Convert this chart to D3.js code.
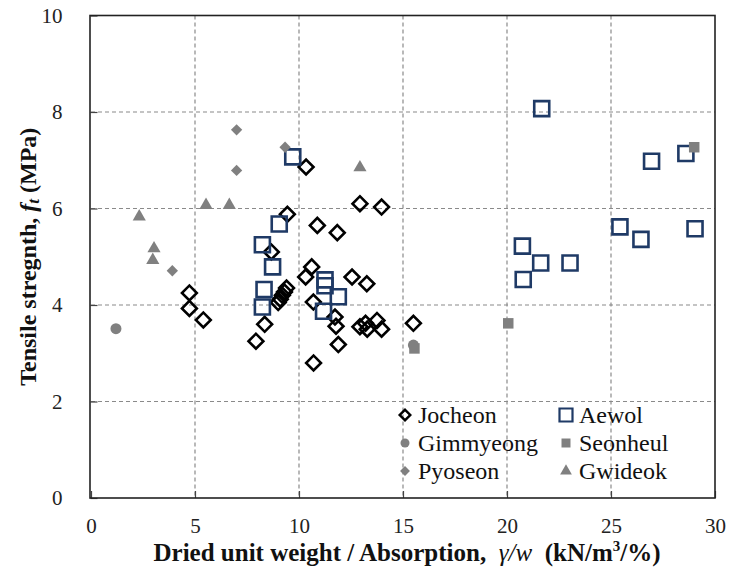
<!DOCTYPE html>
<html>
<head>
<meta charset="utf-8">
<script src="https://cdn.jsdelivr.net/npm/d3@7"></script>
<style>
  html, body { margin: 0; padding: 0; background: #fff; }
  svg { display: block; }
</style>
</head>
<body>
<svg id="chart" width="730" height="568"></svg>
<script>
// Tensile strength vs. dried unit weight / absorption, by quarry site
const xTicks = [0, 5, 10, 15, 20, 25, 30];
const yTicks = [0, 2, 4, 6, 8, 10];

const jocheon = [
  [4.73, 4.25], [4.73, 3.93], [5.4, 3.69], [7.93, 3.25], [8.35, 3.6],
  [8.67, 5.1], [9.0, 4.05], [9.1, 4.12], [9.2, 4.2], [9.3, 4.27], [9.4, 4.35],
  [9.44, 5.88], [10.34, 6.86], [10.88, 5.65], [11.84, 5.5], [12.93, 6.1],
  [13.97, 6.03], [10.61, 4.79], [10.32, 4.58], [12.55, 4.58], [13.26, 4.44],
  [10.69, 4.06], [11.73, 3.75], [11.78, 3.56], [11.89, 3.18], [10.7, 2.8],
  [12.93, 3.55], [13.2, 3.62], [13.28, 3.5], [13.75, 3.68], [13.97, 3.5],
  [15.5, 3.62]
];
const aewol = [
  [8.24, 5.25], [9.05, 5.68], [8.73, 4.79], [8.32, 4.32], [8.24, 3.96],
  [9.7, 7.07], [11.25, 4.52], [11.25, 4.4], [11.89, 4.17], [11.18, 3.87],
  [21.67, 8.07], [26.95, 6.98], [28.6, 7.14], [25.43, 5.62], [26.44, 5.36],
  [29.04, 5.58], [20.74, 5.22], [21.62, 4.87], [23.03, 4.87], [20.78, 4.53]
];
const gimmyeong = [[1.2, 3.51], [15.5, 3.17]];
const seonheul = [[15.55, 3.1], [20.06, 3.62], [29.0, 7.27]];
const pyoseon = [[7.0, 7.63], [9.33, 7.27], [7.0, 6.79], [3.91, 4.71]];
const gwideok = [[5.53, 6.07], [6.65, 6.07], [2.32, 5.83], [3.03, 5.17], [2.97, 4.93], [12.93, 6.85]];

const seriesNames = ["Jocheon", "Aewol", "Gimmyeong", "Seonheul", "Pyoseon", "Gwideok"];

const SERIF = '"Liberation Serif"';
const GRAY = "#808080";
const NAVY = "#1f3a66";

const svg = d3.select("#chart");
const plotLeft = 91, plotRight = 715, plotTop = 15.5, plotBottom = 498;

const x = d3.scaleLinear().domain([0, 30]).range([plotLeft, plotRight]);
const y = d3.scaleLinear().domain([0, 10]).range([plotBottom, plotTop]);

// gridlines
const grid = svg.append("g");
grid.selectAll("line.h").data(yTicks.filter(d => d > 0 && d < 10)).join("line")
  .attr("x1", plotLeft).attr("x2", plotRight)
  .attr("y1", d => y(d)).attr("y2", d => y(d))
  .attr("stroke", "#8a8a8a").attr("stroke-width", 1.2).attr("stroke-dasharray", "4,3");
grid.selectAll("line.v").data(xTicks.filter(d => d > 0 && d < 30)).join("line")
  .attr("y1", plotTop).attr("y2", plotBottom)
  .attr("x1", d => x(d)).attr("x2", d => x(d))
  .attr("stroke", "#8a8a8a").attr("stroke-width", 1.2).attr("stroke-dasharray", "4,3");

// axes with inward ticks
const xAxis = d3.axisBottom(x).tickValues(xTicks).tickSize(-7).tickPadding(20).tickFormat(d3.format("d"));
const yAxis = d3.axisLeft(y).tickValues(yTicks).tickSize(-7).tickPadding(28).tickFormat(d3.format("d"));

const gx = svg.append("g").attr("transform", `translate(0,${plotBottom})`).call(xAxis);
const gy = svg.append("g").attr("transform", `translate(${plotLeft - 0.5},0)`).call(yAxis);
[gx, gy].forEach(g => {
  g.attr("font-family", "Liberation Serif").attr("font-size", 21);
  g.select(".domain").remove();
  g.selectAll(".tick line").attr("stroke", "#444").attr("stroke-width", 1.2);
  g.selectAll(".tick text").attr("fill", "#222").style("font-family", SERIF);
});
gy.selectAll(".tick text").attr("text-anchor", "end").attr("x", -28);
gx.selectAll(".tick text").attr("dy", "0.71em");

// plot frame
svg.append("rect")
  .attr("x", plotLeft - 1).attr("y", plotTop)
  .attr("width", plotRight - plotLeft + 1).attr("height", plotBottom - plotTop)
  .attr("fill", "none").attr("stroke", "#222").attr("stroke-width", 1.6);

// marker definitions
const sq = (s) => d3.symbol(d3.symbolSquare, s * s)();
const circ = (d) => d3.symbol(d3.symbolCircle, Math.PI * d * d / 4)();
const tri = (s) => d3.symbol(d3.symbolTriangle, s)();

const styles = {
  Jocheon:   { path: sq(10.5), rot: 45, fill: "none", stroke: "#000", sw: 2.6 },
  Aewol:     { path: sq(15), rot: 0, fill: "none", stroke: NAVY, sw: 2.6 },
  Gimmyeong: { path: circ(11), rot: 0, fill: GRAY, stroke: "none", sw: 0 },
  Seonheul:  { path: sq(10.5), rot: 0, fill: GRAY, stroke: "none", sw: 0 },
  Pyoseon:   { path: sq(8), rot: 45, fill: GRAY, stroke: "none", sw: 0 },
  Gwideok:   { path: tri(75), rot: 0, fill: GRAY, stroke: "none", sw: 0 }
};
const seriesData = {
  Jocheon: jocheon, Aewol: aewol, Gimmyeong: gimmyeong,
  Seonheul: seonheul, Pyoseon: pyoseon, Gwideok: gwideok
};

const marks = svg.append("g");
seriesNames.forEach(name => {
  const st = styles[name];
  marks.append("g").selectAll("path").data(seriesData[name]).join("path")
    .attr("d", st.path)
    .attr("transform", d => `translate(${x(d[0])},${y(d[1])}) rotate(${st.rot})`)
    .attr("fill", st.fill).attr("stroke", st.stroke).attr("stroke-width", st.sw);
});

// legend (two columns, no frame)
const legendStyles = {
  Jocheon:   { path: sq(7.5), rot: 45, fill: "none", stroke: "#000", sw: 2.4 },
  Aewol:     { path: sq(13), rot: 0, fill: "none", stroke: NAVY, sw: 2.2 },
  Gimmyeong: { path: circ(9), rot: 0, fill: GRAY, stroke: "none", sw: 0 },
  Seonheul:  { path: sq(9), rot: 0, fill: GRAY, stroke: "none", sw: 0 },
  Pyoseon:   { path: sq(7), rot: 45, fill: GRAY, stroke: "none", sw: 0 },
  Gwideok:   { path: tri(60), rot: 0, fill: GRAY, stroke: "none", sw: 0 }
};
const legend = svg.append("g");
seriesNames.forEach((name, i) => {
  const col = i % 2, row = Math.floor(i / 2);
  const lx = col === 0 ? 405 : 566;
  const ly = 415 + row * 28;
  const st = legendStyles[name];
  legend.append("path").attr("d", st.path)
    .attr("transform", `translate(${lx},${ly}) rotate(${st.rot})`)
    .attr("fill", st.fill).attr("stroke", st.stroke).attr("stroke-width", st.sw);
  legend.append("text").attr("x", lx + 13).attr("y", ly + 8)
    .attr("font-size", 24).attr("fill", "#111").style("font-family", SERIF).text(name);
});

// x axis title
const xt = svg.append("text")
  .attr("x", (plotLeft + plotRight) / 2 + 4).attr("y", 561)
  .attr("text-anchor", "middle").attr("font-size", 25).attr("font-weight", "bold")
  .attr("fill", "#111").style("font-family", SERIF);
xt.append("tspan").text("Dried unit weight / Absorption,\u00a0\u00a0");
xt.append("tspan").attr("font-style", "italic").attr("font-weight", "normal").text("γ/w");
xt.append("tspan").text("\u00a0\u00a0(kN/m");
xt.append("tspan").attr("font-size", 15).attr("dy", -10).text("3");
xt.append("tspan").attr("dy", 10).text("/%)");

// y axis title
const yt = svg.append("text")
  .attr("transform", `translate(36,${(plotTop + plotBottom) / 2}) rotate(-90)`)
  .attr("text-anchor", "middle").attr("font-size", 24).attr("font-weight", "bold")
  .attr("fill", "#111").style("font-family", SERIF);
yt.append("tspan").text("Tensile stregnth, ");
yt.append("tspan").attr("font-style", "italic").text("f");
yt.append("tspan").attr("font-style", "italic").attr("font-size", 17).attr("dy", 3).text("t");
yt.append("tspan").attr("dy", -3).text(" (MPa)");
</script>
</body>
</html>
